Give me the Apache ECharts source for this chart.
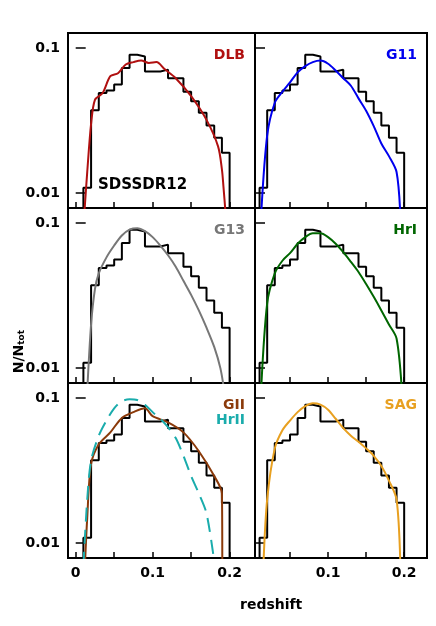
<!DOCTYPE html>
<html><head><meta charset="utf-8">
<script src="https://cdn.jsdelivr.net/npm/echarts@6/dist/echarts.min.js"></script>
<style>html,body{margin:0;padding:0;background:#fff}#c{width:436px;height:626px}</style>
</head><body><div id="c"></div>
<script>
const binStarts = [0.01,0.02,0.03,0.04,0.05,0.06,0.07,0.08,0.09,0.10,0.11,0.12,0.13,0.14,0.15,0.16,0.17,0.18,0.19];
const histVals  = [0.0109,0.0373,0.049,0.051,0.056,0.073,0.090,0.0876,0.069,0.069,0.071,0.062,0.062,0.050,0.043,0.0358,0.0293,0.0241,0.019];
const DLB = [[0.011,0.007],[0.015,0.014],[0.02,0.03],[0.025,0.044],[0.035,0.049],[0.045,0.064],[0.055,0.067],[0.065,0.077],[0.075,0.080],[0.085,0.082],[0.095,0.079],[0.105,0.080],[0.115,0.072],[0.13,0.062],[0.15,0.0466],[0.17,0.032],[0.185,0.021],[0.19,0.0146],[0.192,0.0111],[0.195,0.007]];
const G11 = [[0.012,0.007],[0.02,0.025],[0.03,0.042],[0.04,0.05],[0.05,0.058],[0.06,0.068],[0.07,0.075],[0.08,0.08],[0.09,0.082],[0.1,0.078],[0.11,0.07],[0.12,0.062],[0.13,0.055],[0.14,0.045],[0.15,0.037],[0.16,0.029],[0.17,0.022],[0.18,0.018],[0.19,0.014],[0.195,0.007]];
const G13 = [[0.015,0.007],[0.02,0.02],[0.025,0.035],[0.03,0.045],[0.04,0.058],[0.05,0.07],[0.06,0.082],[0.07,0.09],[0.08,0.092],[0.09,0.088],[0.1,0.08],[0.11,0.07],[0.12,0.06],[0.13,0.05],[0.14,0.04],[0.15,0.032],[0.16,0.025],[0.17,0.019],[0.18,0.014],[0.188,0.01],[0.193,0.007]];
const HrI = [[0.012,0.007],[0.02,0.028],[0.03,0.045],[0.04,0.055],[0.05,0.062],[0.06,0.072],[0.07,0.08],[0.08,0.085],[0.09,0.085],[0.1,0.08],[0.11,0.072],[0.12,0.063],[0.13,0.054],[0.14,0.046],[0.15,0.038],[0.16,0.031],[0.17,0.025],[0.18,0.02],[0.19,0.016],[0.197,0.007]];
const GII = [[0.012,0.007],[0.015,0.015],[0.02,0.035],[0.03,0.048],[0.045,0.058],[0.06,0.073],[0.075,0.08],[0.09,0.085],[0.1,0.075],[0.12,0.068],[0.14,0.058],[0.16,0.043],[0.18,0.029],[0.19,0.022],[0.1905,0.007]];
const HrII = [[0.01,0.007],[0.015,0.02],[0.02,0.037],[0.03,0.055],[0.04,0.07],[0.05,0.085],[0.06,0.095],[0.07,0.098],[0.08,0.097],[0.09,0.09],[0.1,0.08],[0.11,0.072],[0.12,0.063],[0.13,0.053],[0.14,0.04],[0.15,0.029],[0.16,0.022],[0.17,0.016],[0.18,0.0075]];
const SAG = [[0.015,0.007],[0.02,0.02],[0.03,0.045],[0.04,0.06],[0.05,0.07],[0.06,0.08],[0.07,0.088],[0.08,0.092],[0.09,0.09],[0.1,0.083],[0.11,0.072],[0.12,0.062],[0.13,0.055],[0.14,0.05],[0.15,0.045],[0.16,0.04],[0.17,0.034],[0.18,0.027],[0.19,0.02],[0.195,0.007]];
const xTickLabels = ['0','0.1','0.2'];
const yTickLabels = ['0.01','0.1'];

const panels = [
  {lines:[{d:DLB,c:'#b01010',n:'DLB'}], col:0,row:0, sdss:true},
  {lines:[{d:G11,c:'#0000ee',n:'G11'}], col:1,row:0},
  {lines:[{d:G13,c:'#777777',n:'G13'}], col:0,row:1},
  {lines:[{d:HrI,c:'#006600',n:'HrI'}], col:1,row:1},
  {lines:[{d:GII,c:'#8b3a0a',n:'GII'},{d:HrII,c:'#1aacac',n:'HrII',dash:true}], col:0,row:2},
  {lines:[{d:SAG,c:'#e8a020',n:'SAG'}], col:1,row:2}
];
const histData = [[0.01,0.005]].concat(binStarts.map((b,i)=>[b,histVals[i]]));
histData.push([0.2,histVals[histVals.length-1]],[0.2,0.005]);

const font = 'DejaVu Sans';
const grids=[],xAxes=[],yAxes=[],series=[],graphics=[];
const colX=[[68,255],[255,427]], xr=[[-0.01,0.233],[0.004,0.23]];
const rowY=[33,208,383];
panels.forEach((p,i)=>{
  const [l,r]=colX[p.col];
  grids.push({left:l,top:rowY[p.row],width:r-l,height:175,show:true,borderColor:'#000',borderWidth:2,backgroundColor:'transparent'});
  xAxes.push({type:'value',gridIndex:i,min:xr[p.col][0],max:xr[p.col][1],
    axisLine:{show:false},splitLine:{show:false},
    axisTick:{inside:true,length:6,lineStyle:{color:'#000',width:1.5}},
    axisLabel:{show:p.row===2,color:'#000',fontFamily:font,fontWeight:'bold',fontSize:14,showMinLabel:false,showMaxLabel:false,
      formatter:v=>{const k=xTickLabels.findIndex(t=>Math.abs(parseFloat(t)-v)<1e-6);return k>=0?xTickLabels[k]:'';}}});
  yAxes.push({type:'log',gridIndex:i,min:0.0079,max:0.127,logBase:10,
    axisLine:{show:false},splitLine:{show:false},
    axisTick:{inside:true,length:10,lineStyle:{color:'#000',width:1.5}},
    axisLabel:{show:p.col===0,color:'#000',fontFamily:font,fontWeight:'bold',fontSize:14,margin:8,
      formatter:v=>{const k=yTickLabels.findIndex(t=>Math.abs(Math.log10(parseFloat(t))-Math.log10(v))<1e-3);return k>=0?yTickLabels[k]:'';}}});
  series.push({type:'line',xAxisIndex:i,yAxisIndex:i,data:histData,step:'end',symbol:'none',lineStyle:{color:'#000',width:2},z:3});
  p.lines.forEach((ln,j)=>{
    series.push({type:'line',xAxisIndex:i,yAxisIndex:i,data:ln.d,smooth:0.3,symbol:'none',z:4,
      lineStyle:{color:ln.c,width:2,type:ln.dash?[14,8]:'solid'}});
    graphics.push({type:'text',right:436-r+10,top:rowY[p.row]+15+j*15,style:{text:ln.n,fill:ln.c,font:'bold 14px '+font,textAlign:'right'}});
  });
  if(p.sdss) graphics.push({type:'text',left:98,top:178,style:{text:'SDSSDR12',fill:'#000',font:'bold 15px '+font}});
});
graphics.push({type:'text',left:240,top:598,style:{text:'redshift',fill:'#000',font:'bold 14px '+font,textAlign:'center'}});
graphics.push({type:'text',left:12,top:330,rotation:Math.PI/2,style:{rich:{a:{font:'bold 14px '+font,fill:'#000'},b:{font:'bold 9px '+font,fill:'#000',verticalAlign:'bottom',padding:[6,0,0,0]}},text:'{a|N/N}{b|tot}'}});

const chart=echarts.init(document.getElementById('c'),null,{renderer:'canvas'});
chart.setOption({animation:false,grid:grids,xAxis:xAxes,yAxis:yAxes,series:series,graphic:graphics});
</script></body></html>
